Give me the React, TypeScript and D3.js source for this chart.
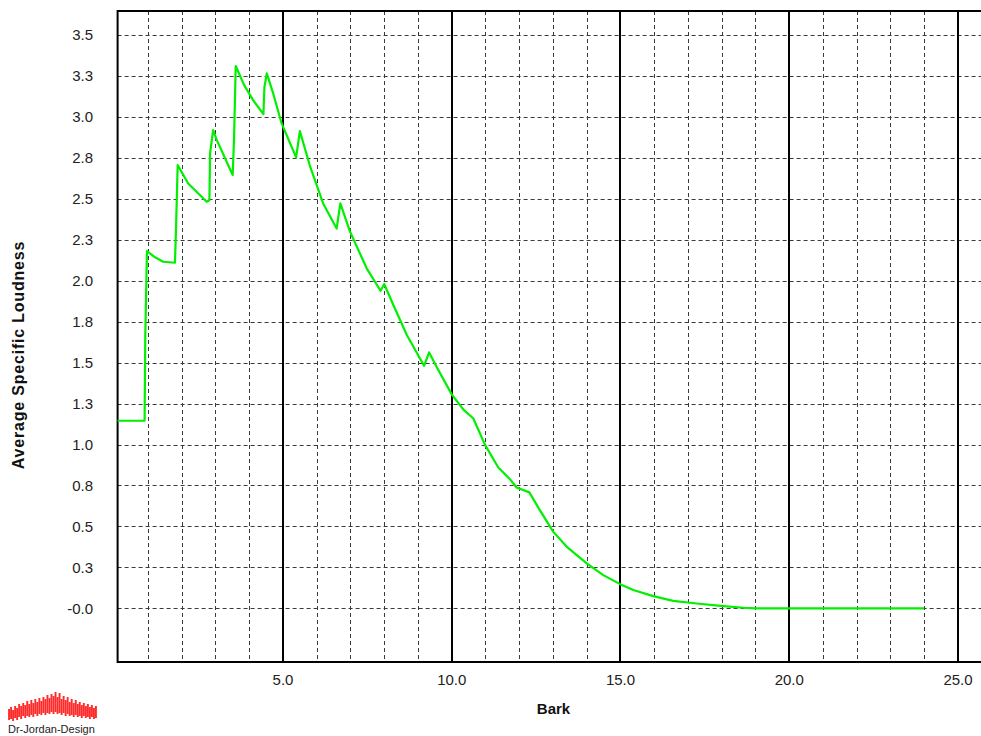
import React, { useEffect, useRef } from "react";
import * as d3 from "d3";

// Curve: bark position and average specific loudness
const bark = [
  0.1, 0.9, 0.92, 0.97, 1.21, 1.45, 1.8, 1.83, 1.88, 2.19, 2.44, 2.74, 2.82, 2.84,
  2.93, 3.04, 3.51, 3.55, 3.6, 3.85, 4.12, 4.42, 4.45, 4.52, 4.71, 4.96, 5.39, 5.5,
  5.8, 6.19, 6.59, 6.7, 6.98, 7.48, 7.89, 8.0, 8.27, 8.67, 9.18, 9.33, 9.55, 10.0,
  10.34, 10.64, 10.99, 11.38, 11.73, 11.92, 12.3, 12.61, 13.01, 13.41, 14.0, 14.49,
  14.99, 15.38, 15.97, 16.56, 17.26, 18.05, 18.64, 19.0, 24.0,
];
const loudness = [
  1.145, 1.145, 1.66, 2.18, 2.142, 2.115, 2.109, 2.31, 2.705, 2.593, 2.542, 2.481,
  2.49, 2.776, 2.918, 2.857, 2.644, 2.868, 3.309, 3.193, 3.1, 3.016, 3.18, 3.264,
  3.142, 2.959, 2.752, 2.912, 2.699, 2.471, 2.318, 2.471, 2.302, 2.075, 1.938,
  1.979, 1.851, 1.668, 1.48, 1.562, 1.474, 1.306, 1.214, 1.159, 0.996, 0.86, 0.787,
  0.738, 0.708, 0.6, 0.467, 0.376, 0.275, 0.203, 0.148, 0.112, 0.075, 0.046, 0.03,
  0.014, 0.004, 0.0, 0.0,
];

// Axis ticks
const yTicks = [0, 0.25, 0.5, 0.75, 1, 1.25, 1.5, 1.75, 2, 2.25, 2.5, 2.75, 3, 3.25, 3.5];
const yTickLabels = ["-0.0", "0.3", "0.5", "0.8", "1.0", "1.3", "1.5", "1.8", "2.0", "2.3", "2.5", "2.8", "3.0", "3.3", "3.5"];
const xMajor = [5, 10, 15, 20, 25];
const xMajorLabels = ["5.0", "10.0", "15.0", "20.0", "25.0"];
const xMinor = [1, 2, 3, 4, 6, 7, 8, 9, 11, 12, 13, 14, 16, 17, 18, 19, 21, 22, 23, 24, 26];

// Logo waveform (bar tops / bottoms)
const logoTop = [709, 707, 710, 706, 708, 704, 706, 703, 705, 701, 704, 700, 703, 699, 702, 698, 701, 697, 699, 695, 698, 694, 696, 692, 697, 693, 699, 696, 700, 697, 702, 699, 703, 700, 704, 702, 705, 703, 706, 704, 707, 705, 708, 706];
const logoBottom = [720, 719, 721, 718, 720, 717, 719, 716, 718, 716, 717, 715, 717, 714, 716, 714, 715, 713, 715, 713, 714, 712, 714, 712, 714, 713, 715, 713, 716, 714, 716, 715, 717, 715, 717, 716, 718, 716, 718, 717, 719, 717, 719, 718];

const FONT = "'Liberation Sans', Arial, sans-serif";

const App = () => {
  const chartRef = useRef<SVGSVGElement>(null);

  useEffect(() => {
    const svg = d3.select(chartRef.current);
    svg.selectAll("*").remove();

    const left = 117.6;
    const top = 11;
    const bottom = 662;
    const right = 985;

    const x = d3.scaleLinear().domain([0.1, 25.8]).range([left, right]);
    const y = d3.scaleLinear().domain([-0.327, 3.645]).range([bottom, top]);

    svg.append("rect").attr("width", 981).attr("height", 736).attr("fill", "#fff");

    // dashed grid
    const grid = svg.append("g").attr("stroke", "#3a3a3a").attr("stroke-width", 1).attr("stroke-dasharray", "4,3");
    grid
      .selectAll(".hg")
      .data(yTicks)
      .join("line")
      .attr("x1", left)
      .attr("x2", right)
      .attr("y1", (d) => Math.round(y(d)) + 0.5)
      .attr("y2", (d) => Math.round(y(d)) + 0.5);
    grid
      .selectAll(".vg")
      .data(xMinor)
      .join("line")
      .attr("x1", (d) => Math.round(x(d)) + 0.5)
      .attr("x2", (d) => Math.round(x(d)) + 0.5)
      .attr("y1", top)
      .attr("y2", bottom);

    // solid major verticals
    svg
      .append("g")
      .selectAll("line")
      .data(xMajor)
      .join("line")
      .attr("x1", (d) => Math.round(x(d)))
      .attr("x2", (d) => Math.round(x(d)))
      .attr("y1", top)
      .attr("y2", bottom)
      .attr("stroke", "#000")
      .attr("stroke-width", 2);

    // frame (left, top, bottom)
    svg
      .append("path")
      .attr("d", `M${right},${top}H${left}V${bottom}H${right}`)
      .attr("fill", "none")
      .attr("stroke", "#000")
      .attr("stroke-width", 2);

    // curve
    const line = d3
      .line<number>()
      .x((d, i) => x(bark[i]))
      .y((d) => y(d));
    svg
      .append("path")
      .attr("d", line(loudness))
      .attr("fill", "none")
      .attr("stroke", "#00f000")
      .attr("stroke-width", 2.2)
      .attr("stroke-linejoin", "round");

    // y tick labels
    svg
      .append("g")
      .selectAll("text")
      .data(yTicks)
      .join("text")
      .attr("x", 93)
      .attr("y", (d) => y(d))
      .attr("dy", "0.35em")
      .attr("text-anchor", "end")
      .attr("font-family", FONT)
      .attr("font-size", 15)
      .attr("fill", "#222")
      .text((d, i) => yTickLabels[i]);

    // x tick labels
    svg
      .append("g")
      .selectAll("text")
      .data(xMajor)
      .join("text")
      .attr("x", (d) => x(d))
      .attr("y", 685)
      .attr("text-anchor", "middle")
      .attr("font-family", FONT)
      .attr("font-size", 15)
      .attr("fill", "#222")
      .text((d, i) => xMajorLabels[i]);

    // axis titles
    svg
      .append("text")
      .attr("x", 553.5)
      .attr("y", 714)
      .attr("text-anchor", "middle")
      .attr("font-family", FONT)
      .attr("font-size", 15)
      .attr("font-weight", "bold")
      .attr("fill", "#111")
      .text("Bark");

    svg
      .append("text")
      .attr("transform", "translate(24,355) rotate(-90)")
      .attr("text-anchor", "middle")
      .attr("font-family", FONT)
      .attr("font-size", 16)
      .attr("font-weight", "bold")
      .attr("letter-spacing", 0.8)
      .attr("fill", "#111")
      .text("Average Specific Loudness");

    // logo
    const lx = d3.scaleBand<number>().domain(d3.range(logoTop.length)).range([8, 97]).padding(0.05);
    svg
      .append("g")
      .selectAll("rect")
      .data(logoTop)
      .join("rect")
      .attr("x", (d, i) => lx(i) as number)
      .attr("width", lx.bandwidth())
      .attr("y", (d) => d)
      .attr("height", (d, i) => logoBottom[i] - d)
      .attr("fill", "#ff2a2a");
    svg
      .append("text")
      .attr("x", 8)
      .attr("y", 733)
      .attr("font-family", FONT)
      .attr("font-size", 11)
      .attr("fill", "#222")
      .text("Dr-Jordan-Design");
  }, []);

  return (
    <svg
      ref={chartRef}
      width={981}
      height={736}
      style={{ position: "absolute", left: 0, top: 0 }}
    />
  );
};

export default App;
